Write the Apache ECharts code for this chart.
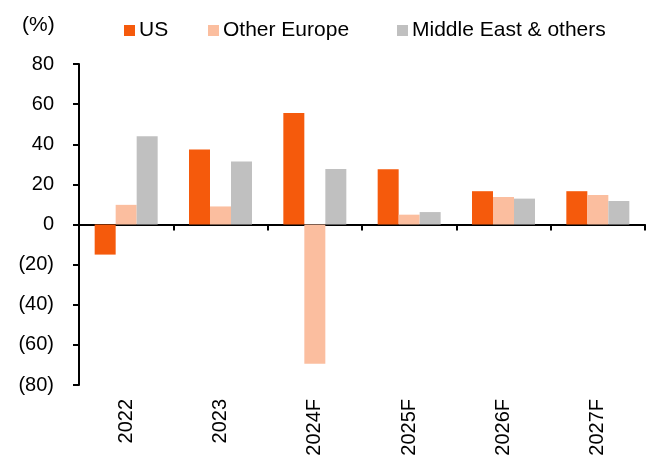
<!DOCTYPE html>
<html>
<head>
<meta charset="utf-8">
<script src="https://cdn.jsdelivr.net/npm/echarts@6/dist/echarts.min.js"></script>
<style>
  html, body { margin: 0; padding: 0; background: #fff; }
  #chart { width: 656px; height: 461px; }
</style>
</head>
<body>
<div id="chart"></div>
<script>
// values (%)
var years = ['2022', '2023', '2024F', '2025F', '2026F', '2027F']
var us = [-15, 37.4, 55.6, 27.6, 16.6, 16.6]
var otherEurope = [9.8, 9, -69.4, 4.9, 13.7, 14.7]
var middleEast = [44, 31.4, 27.7, 6.2, 12.9, 11.7]
var yTicks = { min: -80, max: 80, step: 20 }

var font = 'Liberation Sans, Arial, sans-serif'

function pct (v) {
  return v < 0 ? '(' + Math.abs(v) + ')' : String(v)
}

function legendAt (left, name) {
  return {
    left: left,
    top: 15,
    itemWidth: 11,
    itemHeight: 11,
    itemGap: 0,
    icon: 'rect',
    textStyle: { fontFamily: font, fontSize: 21, color: '#000', padding: [0, 0, 0, -1] },
    data: [name]
  }
}

var chart = echarts.init(document.getElementById('chart'))
chart.setOption({
  animation: false,
  title: {
    text: '(%)',
    left: 17,
    top: 10,
    textStyle: { fontFamily: font, fontSize: 21, fontWeight: 'normal', color: '#000' }
  },
  legend: [
    legendAt(119, 'US'),
    legendAt(203, 'Other Europe'),
    legendAt(392, 'Middle East & others')
  ],
  grid: { left: 79, right: 11, top: 64, bottom: 76 },
  xAxis: [
    {
      type: 'category',
      data: years,
      position: 'bottom',
      axisLine: { show: false, onZero: false },
      axisTick: { show: false },
      axisLabel: {
        rotate: 90,
        margin: 14,
        fontFamily: font,
        fontSize: 20,
        color: '#000'
      }
    },
    {
      type: 'category',
      data: years,
      position: 'top',
      axisLine: { onZero: true, lineStyle: { color: '#000', width: 2 } },
      axisTick: { show: true, inside: true, length: 6, interval: 0, lineStyle: { color: '#000', width: 2 } },
      axisLabel: { show: false }
    }
  ],
  yAxis: {
    type: 'value',
    min: yTicks.min,
    max: yTicks.max,
    interval: yTicks.step,
    splitLine: { show: false },
    axisLine: { show: true, lineStyle: { color: '#000', width: 2 } },
    axisTick: { show: true, length: 6, lineStyle: { color: '#000', width: 2 } },
    axisLabel: {
      margin: 25,
      fontFamily: font,
      fontSize: 20,
      color: '#000',
      formatter: pct
    }
  },
  series: [
    {
      name: 'US',
      type: 'bar',
      data: us,
      barWidth: 21,
      barGap: '0%',
      itemStyle: { color: '#F55A0C' }
    },
    {
      name: 'Other Europe',
      type: 'bar',
      data: otherEurope,
      barWidth: 21,
      barGap: '0%',
      itemStyle: { color: '#FBBE9F' }
    },
    {
      name: 'Middle East & others',
      type: 'bar',
      data: middleEast,
      barWidth: 21,
      barGap: '0%',
      itemStyle: { color: '#C0C0C0' }
    }
  ]
})
</script>
</body>
</html>
